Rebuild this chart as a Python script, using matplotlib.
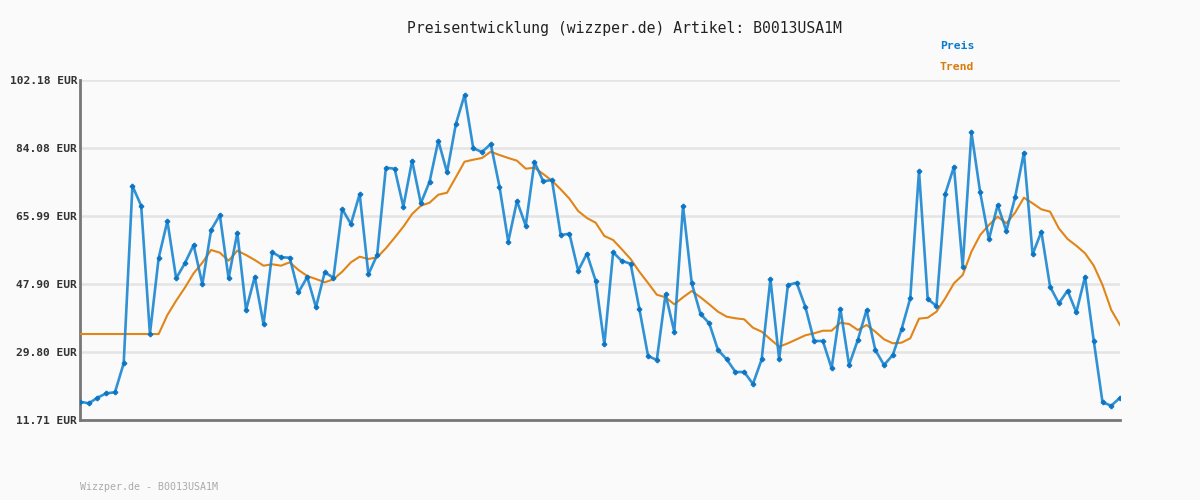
import numpy as np
import matplotlib
matplotlib.use("Agg")
import matplotlib.pyplot as plt

# Preisverlauf (EUR)
preis = [16.58, 16.15, 17.64, 18.81, 19.08, 26.80, 73.97, 68.73, 34.59, 54.82,
         64.66, 49.41, 53.41, 58.28, 47.82, 62.27, 66.26, 49.41, 61.55, 40.98,
         49.84, 37.17, 56.33, 55.00, 54.90, 45.69, 49.76, 41.70, 51.01, 49.57,
         67.85, 63.86, 71.85, 50.48, 55.61, 78.84, 78.58, 68.47, 80.71, 69.37,
         75.12, 86.03, 77.62, 90.39, 98.19, 84.01, 83.02, 85.15, 73.79, 59.15,
         69.98, 63.41, 80.36, 75.23, 75.57, 60.94, 61.28, 51.44, 55.96, 48.78,
         31.85, 56.33, 54.02, 53.30, 41.33, 28.74, 27.68, 45.16, 35.21, 68.65,
         48.08, 39.92, 37.44, 30.34, 27.86, 24.48, 24.48, 21.29, 27.86, 49.23,
         27.86, 47.63, 48.24, 41.78, 32.73, 32.73, 25.47, 41.33, 26.34, 33.00,
         40.98, 30.34, 26.34, 29.01, 35.84, 44.09, 77.97, 43.91, 42.04, 71.85,
         79.11, 52.50, 88.26, 72.30, 59.79, 68.92, 62.00, 70.97, 82.84, 55.80,
         61.81, 47.18, 42.76, 46.12, 40.37, 49.84, 32.73, 16.42, 15.52, 17.64]

trend = [34.59, 34.59, 34.59, 34.59, 34.59, 34.59, 34.59, 34.59, 34.59, 34.59,
         39.65, 43.45, 46.91, 50.74, 53.57, 56.95, 56.23, 54.10, 56.76, 55.61,
         54.28, 52.77, 53.14, 52.77, 53.67, 51.62, 50.03, 49.23, 48.35, 49.15,
         51.17, 53.67, 55.16, 54.55, 55.00, 57.40, 60.22, 63.15, 66.52, 68.73,
         69.53, 71.66, 72.19, 76.29, 80.44, 80.97, 81.43, 83.10, 82.22, 81.43,
         80.71, 78.58, 78.84, 77.17, 75.39, 73.10, 70.60, 67.32, 65.46, 64.21,
         60.67, 59.61, 57.13, 54.55, 51.17, 48.16, 45.05, 44.36, 42.50, 44.36,
         46.04, 44.36, 42.50, 40.53, 39.20, 38.77, 38.50, 36.27, 35.21, 33.18,
         31.21, 32.12, 33.18, 34.25, 34.78, 35.47, 35.47, 37.60, 37.25, 35.66,
         36.99, 35.21, 33.18, 32.12, 32.28, 33.45, 38.67, 38.93, 40.53, 44.09,
         48.08, 50.29, 56.49, 60.94, 63.60, 65.81, 64.05, 66.87, 70.86, 69.37,
         67.77, 67.14, 62.72, 59.87, 58.09, 56.07, 52.77, 47.63, 40.98, 36.99]

y_ticks = [11.71, 29.80, 47.90, 65.99, 84.08, 102.18]

blau = "#1a86d0"
orange = "#e08518"
bg = "#fafafa"
mono = "DejaVu Sans Mono"

fig = plt.figure(figsize=(12, 5), dpi=100, facecolor=bg)
ax = fig.add_axes([80 / 1200, 0.16, 1040 / 1200, 0.68], facecolor=bg)

x = np.arange(len(preis))
ax.plot(x, trend, color=orange, lw=1.5, zorder=3)
ax.plot(x, preis, color=blau, lw=1.9, alpha=0.9, zorder=4,
        marker="P", ms=3.0, mfc="#0a74c4", mec="#0a74c4")

ax.set_xlim(0, len(preis) - 1)
ax.set_ylim(y_ticks[0], y_ticks[-1])
ax.set_yticks(y_ticks)
ax.set_yticklabels([f"{v:.2f} EUR" for v in y_ticks], family=mono,
                   fontsize=8.1, fontweight="bold", color="#333333")
ax.set_xticks([])
ax.tick_params(axis="y", length=0, pad=2)
ax.grid(axis="y", color="#e4e4e4", lw=1.8)
ax.set_axisbelow(True)
for s in ["top", "right"]:
    ax.spines[s].set_visible(False)
for s in ["left", "bottom"]:
    ax.spines[s].set_color("#777777")
    ax.spines[s].set_linewidth(2)

fig.text(624 / 1200, 1 - 28 / 500, "Preisentwicklung (wizzper.de) Artikel: B0013USA1M",
         ha="center", va="center", family=mono, fontsize=10.6, color="#222222")
fig.text(940 / 1200, 1 - 46 / 500, "Preis", ha="left", va="center",
         family=mono, fontsize=8.2, fontweight="bold", color="#0a7ccc")
fig.text(940 / 1200, 1 - 67 / 500, "Trend", ha="left", va="center",
         family=mono, fontsize=8.2, fontweight="bold", color="#d97a0a")
fig.text(80 / 1200, 1 - 487 / 500, "Wizzper.de - B0013USA1M", ha="left",
         va="center", family=mono, fontsize=7.2, color="#aaaaaa")

fig.savefig("out.png", dpi=100, facecolor=bg)
